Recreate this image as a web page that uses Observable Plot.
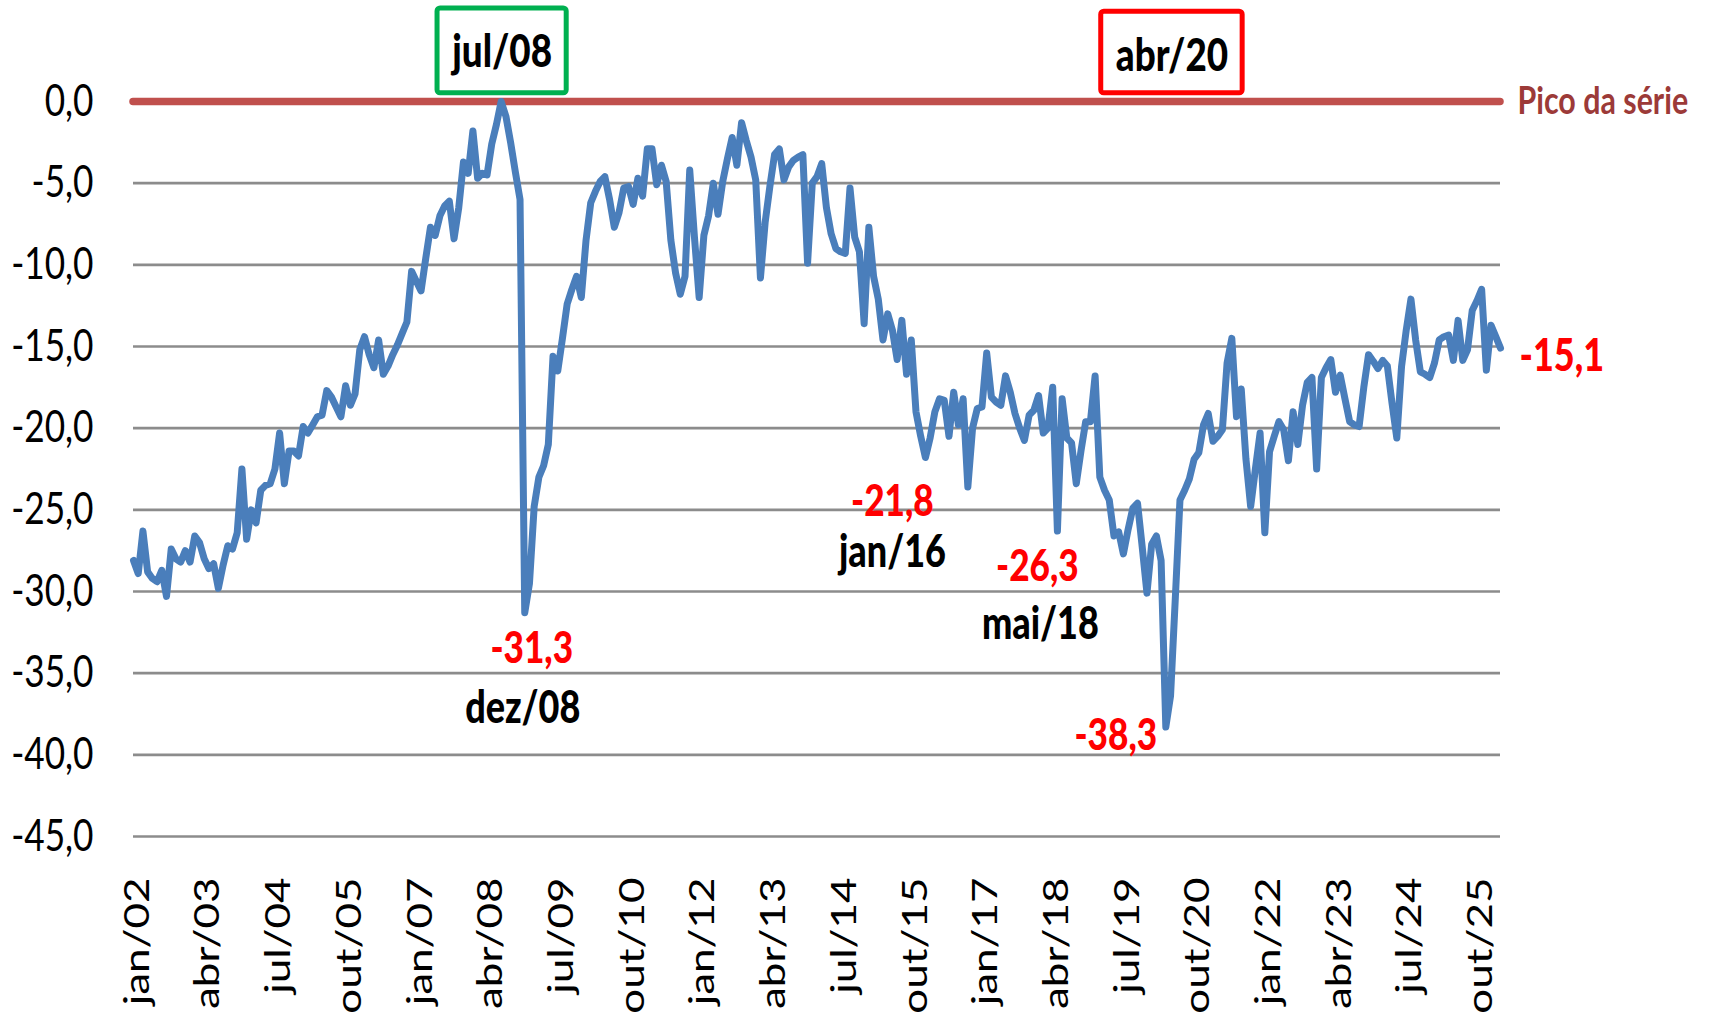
<!DOCTYPE html>
<html>
<head>
<meta charset="utf-8">
<script src="https://cdn.jsdelivr.net/npm/d3@7"></script>
<script src="https://cdn.jsdelivr.net/npm/@observablehq/plot@0.6"></script>
<style>
  body { margin: 0; background: #ffffff; }
  #chart svg { display: block; }
</style>
</head>
<body>
<div id="chart"></div>
<script>
// ---------------- DATA ----------------
const startLabel = "jan/02";
const values = [
  -28.1,-28.9,-26.3,-28.8,-29.2,-29.4,-28.7,-30.3,-27.4,-28.0,-28.2,-27.5,
  -28.2,-26.6,-27.0,-28.0,-28.6,-28.3,-29.8,-28.4,-27.2,-27.4,-26.4,-22.5,
  -26.8,-25.0,-25.8,-23.8,-23.5,-23.4,-22.5,-20.3,-23.4,-21.4,-21.4,-21.7,
  -19.9,-20.3,-19.8,-19.3,-19.2,-17.7,-18.1,-18.7,-19.3,-17.4,-18.6,-17.9,
  -15.2,-14.4,-15.5,-16.3,-14.6,-16.7,-16.2,-15.5,-14.9,-14.2,-13.5,-10.4,
  -11.0,-11.6,-9.6,-7.7,-8.2,-7.0,-6.4,-6.1,-8.4,-6.5,-3.7,-4.4,
  -1.8,-4.7,-4.4,-4.5,-2.6,-1.4,0.0,-0.9,-2.5,-4.3,-6.0,-31.3,
  -29.5,-24.8,-23.0,-22.3,-21.0,-15.6,-16.5,-14.5,-12.4,-11.5,-10.7,-12.0,
  -8.5,-6.2,-5.5,-4.9,-4.6,-6.0,-7.7,-6.8,-5.3,-5.2,-6.3,-4.7,
  -5.8,-2.9,-2.9,-5.1,-3.9,-4.9,-8.5,-10.5,-11.8,-10.7,-4.2,-8.3,
  -12.0,-8.2,-7.0,-5.0,-6.9,-4.9,-3.5,-2.2,-3.9,-1.3,-2.4,-3.4,
  -4.8,-10.8,-7.4,-5.2,-3.25,-2.9,-4.8,-4.0,-3.6,-3.4,-3.25,-9.9,
  -5.0,-4.6,-3.8,-6.5,-8.1,-9.0,-9.2,-9.3,-5.3,-8.3,-9.2,-13.6,
  -7.7,-10.7,-12.1,-14.6,-13.0,-14.0,-15.8,-13.4,-16.7,-14.6,-19.0,-20.5,
  -21.8,-20.6,-19.0,-18.2,-18.3,-20.5,-17.8,-19.8,-18.2,-23.6,-20.0,-18.8,
  -18.7,-15.4,-18.1,-18.4,-18.6,-16.8,-17.8,-19.1,-20.0,-20.75,-19.2,-18.9,
  -18.0,-20.3,-20.0,-17.5,-26.3,-18.2,-20.6,-20.9,-23.4,-21.4,-19.6,-19.6,
  -16.8,-23.0,-23.8,-24.4,-26.6,-26.35,-27.7,-26.2,-24.9,-24.6,-27.3,-30.1,
  -27.1,-26.6,-28.1,-38.3,-36.4,-30.5,-24.4,-23.8,-23.1,-21.9,-21.5,-19.8,
  -19.1,-20.8,-20.5,-20.1,-16.0,-14.5,-19.3,-17.6,-21.9,-24.8,-22.5,-20.3,
  -26.4,-21.45,-20.5,-19.6,-20.1,-22.0,-19.0,-21.0,-18.6,-17.2,-16.9,-22.5,
  -16.9,-16.3,-15.8,-17.8,-16.75,-18.2,-19.6,-19.8,-19.9,-17.5,-15.5,-15.9,
  -16.35,-15.85,-16.2,-18.5,-20.6,-16.25,-14.0,-12.1,-14.6,-16.55,-16.7,-16.9,
  -16.0,-14.6,-14.4,-14.3,-15.85,-13.4,-15.85,-15.2,-12.8,-12.2,-11.5,-16.45,
  -13.7,-14.4,-15.1
];
const xTickLabels = ["jan/02","abr/03","jul/04","out/05","jan/07","abr/08","jul/09","out/10",
  "jan/12","abr/13","jul/14","out/15","jan/17","abr/18","jul/19","out/20","jan/22","abr/23","jul/24","out/25"];
const yTicks = [0,-5,-10,-15,-20,-25,-30,-35,-40,-45];
const extremeLabels = ["dez/08","jan/16","mai/18","abr/20"];
const extremeValues = [-31.3,-21.8,-26.3,-38.3];
const highlightLabels = ["jul/08","abr/20"];
const peakLevel = 0;
const seriesName = "Pico da série";

// ---------------- HELPERS ----------------
const monthAbbr = ["jan","fev","mar","abr","mai","jun","jul","ago","set","out","nov","dez"];
function monthIndex(label) {
  const [m, y] = label.split("/");
  const [m0, y0] = startLabel.split("/");
  return (+y - +y0) * 12 + monthAbbr.indexOf(m) - monthAbbr.indexOf(m0);
}
const fmt = v => v.toFixed(1).replace(".", ",");
const data = values.map((v, i) => ({i, v}));
const lastIndex = values.length - 1;
const lastValue = values[lastIndex];

// layout / style (pixel offsets, not data)
const extremeStyle = [
  {vdx: 7,   vdy: 36, ddx: -2,  ddy: 96, showDate: true},
  {vdx: -33, vdy: 44, ddx: -33, ddy: 95, showDate: true},
  {vdx: -20, vdy: 36, ddx: -17, ddy: 94, showDate: true},
  {vdx: -50, vdy: 9,  ddx: 0,   ddy: 0,  showDate: false}
];
const boxStyle = [
  {color: "#00B050", shift: 0.2, half: 13.7, top: 5.7, textY: 3.0},
  {color: "#FF0000", shift: 1.3, half: 15.0, top: 5.5, textY: 2.8}
];
const boldW = 900;

const marks = [
  Plot.ruleY(yTicks.filter(d => d < 0), {stroke: "#8c8c8c", strokeWidth: 2.6}),
  Plot.ruleY([peakLevel], {stroke: "#C0504D", strokeWidth: 7.5, strokeLinecap: "round"}),
  Plot.line(data, {x: "i", y: "v", stroke: "#4A7EBB", strokeWidth: 7, strokeLinejoin: "round", strokeLinecap: "round"}),
  // y tick labels
  Plot.text(yTicks, {frameAnchor: "left", y: d => d, text: d => fmt(d), textAnchor: "end", lineAnchor: "middle",
    dx: -40, fontSize: 44, fill: "#000"}),
  // x tick labels
  Plot.text(xTickLabels, {frameAnchor: "bottom", x: d => monthIndex(d), text: d => d, rotate: -90,
    textAnchor: "end", lineAnchor: "middle", dx: 4, dy: 41, fontSize: 44, fill: "#000"}),
  // series label
  Plot.text([seriesName], {x: lastIndex, y: peakLevel, text: d => d, textAnchor: "start", lineAnchor: "middle",
    dx: 17, fontSize: 38, fontWeight: "bold", fill: "#9C3A38"}),
  // last value label
  Plot.text([lastValue], {x: lastIndex, y: lastValue, text: d => fmt(d), textAnchor: "start", lineAnchor: "middle",
    dx: 19, dy: 8, fontSize: 45, fontWeight: boldW, fill: "#FF0000"})
];

extremeLabels.forEach((lab, k) => {
  const s = extremeStyle[k];
  const pt = [{x: monthIndex(lab), y: extremeValues[k]}];
  marks.push(Plot.text(pt, {x: "x", y: "y", text: d => fmt(d.y), textAnchor: "middle", lineAnchor: "middle",
    dx: s.vdx, dy: s.vdy, fontSize: 44, fontWeight: boldW, fill: "#FF0000"}));
  if (s.showDate) {
    marks.push(Plot.text(pt, {x: "x", y: "y", text: () => lab, textAnchor: "middle", lineAnchor: "middle",
      dx: s.ddx, dy: s.ddy, fontSize: 45, fontWeight: boldW, fill: "#000"}));
  }
});

highlightLabels.forEach((lab, k) => {
  const s = boxStyle[k];
  const c = monthIndex(lab) + s.shift;
  marks.push(Plot.rect([lab], {x1: () => c - s.half, x2: () => c + s.half, y1: () => 0.5, y2: () => s.top,
    fill: "#fff", stroke: s.color, strokeWidth: 5, rx: 3}));
  marks.push(Plot.text([lab], {x: () => c, y: () => s.textY, text: d => d, textAnchor: "middle", lineAnchor: "middle",
    fontSize: 46, fontWeight: boldW, fill: "#000"}));
});

const chart = Plot.plot({
  width: 1714,
  height: 1018,
  marginLeft: 133,
  marginRight: 214,
  marginTop: 101,
  marginBottom: 182,
  x: {type: "linear", domain: [0, lastIndex], axis: null},
  y: {type: "linear", domain: [-45, 0], axis: null},
  style: {background: "#ffffff", fontFamily: "Lato, 'Liberation Sans Narrow', sans-serif", overflow: "visible"},
  marks
});

// Condense glyphs horizontally (Calibri-like narrow look)
d3.select(chart).selectAll("text").each(function () {
  let t = this.getAttribute("transform");
  if (!t) {
    const x = this.getAttribute("x") || 0, y = this.getAttribute("y") || 0;
    t = `translate(${x},${y})`;
    this.removeAttribute("x");
  }
  const rotated = /rotate/.test(t);
  this.setAttribute("transform", t + (rotated ? " scale(1,0.8)" : " scale(0.8,1)"));
});

document.getElementById("chart").appendChild(chart);
</script>
</body>
</html>
